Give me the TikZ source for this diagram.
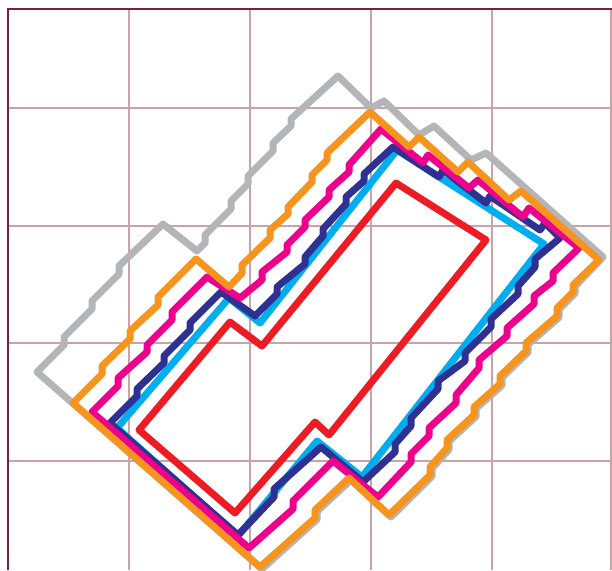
\documentclass[tikz,border=0pt]{standalone}
\usepackage{tikz}
\definecolor{cgray}{HTML}{B3B5B8}
\definecolor{corange}{HTML}{F7941D}
\definecolor{cpink}{HTML}{EC008C}
\definecolor{cnavy}{HTML}{2E3192}
\definecolor{ccyan}{HTML}{00AEEF}
\definecolor{cred}{HTML}{ED1C24}
\definecolor{cgrid}{HTML}{C9A3A7}
\definecolor{cframe}{HTML}{7A1F47}
\tikzset{
  gridline/.style={cgrid, line width=1.1pt},
  frameline/.style={cframe, line width=2.4pt},
  outline/.style={line width=7pt, line join=round},
}
\begin{document}
\begin{tikzpicture}[x=1pt,y=-1pt]
\useasboundingbox (0,0) rectangle (612,570);
\fill[white] (0,0) rectangle (612,570);
% grid
\foreach \gx in {129,250,371,492,611} \draw[gridline] (\gx,9) -- (\gx,570);
\foreach \gy in {108,226,343,461} \draw[gridline] (8,\gy) -- (612,\gy);
\draw[frameline] (8,570) -- (8,9) -- (612,9);
% gray
\draw[outline, cgray] (37,372) -- (64,345) -- (64,337) -- (92,309) -- (92,301) -- (119,274) -- (119,266) -- (163,224) -- (197,251) -- (205,243) -- (205,235) -- (231,209) -- (231,201) -- (248,184) -- (248,176) -- (273,151) -- (273,143) -- (291,126) -- (291,119) -- (338,76) -- (371,108) -- (384,101) -- (419,135) -- (434,126) -- (471,160) -- (486,153) -- (603,257) -- (575,286.5) -- (575,293.5) -- (559,309.5) -- (559,317.5) -- (528,344.5) -- (528,352.5) -- (502,377.5) -- (502,385.5) -- (476,408.5) -- (476,416.5) -- (449,441.5) -- (449,449.5) -- (432,468.5) -- (432,476.5) -- (391,517) -- (351,480) -- (317,511.5) -- (317,519.5) -- (262,569) -- cycle;
% cyan
\draw[outline, ccyan] (397,150) -- (544,244) -- (362,477) -- (317,441) -- (238,536) -- (117,428) -- (229,298) -- (260,323) -- cycle;
% navy
\draw[outline, cnavy] (110,423) -- (137,396) -- (137,389) -- (164,363) -- (164,356) -- (190,330) -- (190,323) -- (221,292) -- (255,316) -- (277,294) -- (277,287) -- (305,264) -- (305,257) -- (323,236) -- (323,229) -- (346,204) -- (346,197) -- (364,181) -- (364,174) -- (393,147) -- (439,177) -- (443,170) -- (486,203) -- (490,196) -- (540,230) -- (545,223) -- (560,238) -- (535,259) -- (535,267) -- (518,286) -- (518,294) -- (491,319) -- (491,327) -- (465,353) -- (465,361) -- (438,381) -- (438,389) -- (411,418) -- (411,426) -- (395,444) -- (395,452) -- (363,482) -- (321,447) -- (274,489) -- (274,497) -- (238,535) -- cycle;
% pink
\draw[outline, cpink] (92,412) -- (118,386) -- (118,378) -- (147,352) -- (147,345) -- (172,320) -- (172,312) -- (207,277) -- (240,298) -- (262,280) -- (262,272) -- (287,252) -- (287,245) -- (305,227) -- (305,220) -- (329,197) -- (329,190) -- (349,172) -- (349,165) -- (381,129) -- (423,163) -- (428,155) -- (469,188) -- (478,180) -- (523,217) -- (529,208) -- (579,248) -- (553,273) -- (553,281) -- (534,296) -- (534,304) -- (507,328) -- (507,336) -- (479,360) -- (479,368) -- (456,395) -- (456,403) -- (429,428) -- (429,436) -- (411,454) -- (411,462) -- (378,497) -- (333,461) -- (293,501) -- (293,509) -- (249,548) -- cycle;
% orange
\draw[outline, corange] (73,403) -- (102,374) -- (102,366) -- (130,339) -- (130,331) -- (158,305) -- (158,297) -- (196,259) -- (229,287) -- (242,273) -- (242,265) -- (270,238) -- (270,230) -- (288,214) -- (288,207) -- (312,182) -- (312,175) -- (327,160) -- (327,153) -- (370,112) -- (409,147) -- (419,137) -- (458,172) -- (468,162) -- (509,200) -- (521,191) -- (599,260) -- (573,285) -- (573,292) -- (557,308) -- (557,316) -- (526,343) -- (526,351) -- (500,376) -- (500,384) -- (474,407) -- (474,415) -- (447,440) -- (447,448) -- (430,467) -- (430,475) -- (389,515) -- (349,478) -- (315,510) -- (315,518) -- (260,567) -- cycle;
% red
\draw[outline, cred] (396,183) -- (486,240) -- (329,435) -- (315,422) -- (235,513) -- (139,430) -- (230,322) -- (262,346) -- cycle;
\end{tikzpicture}
\end{document}
